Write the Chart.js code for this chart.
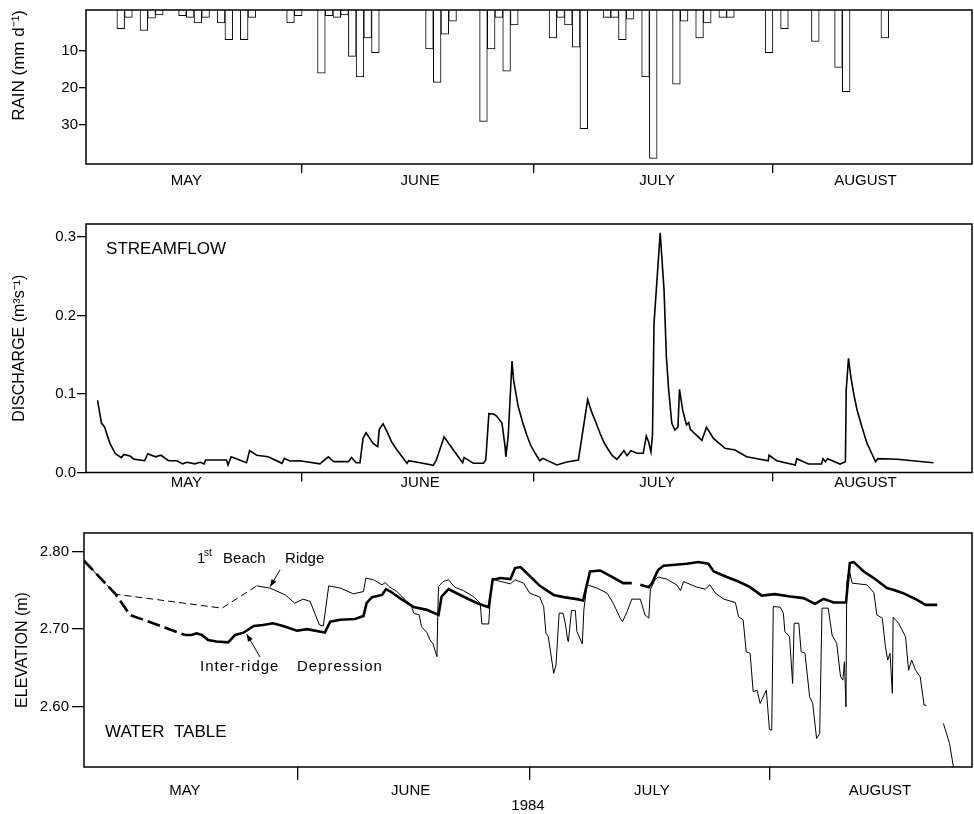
<!DOCTYPE html>
<html>
<head>
<meta charset="utf-8">
<script src="https://cdn.jsdelivr.net/npm/chart.js@4.4.1/dist/chart.umd.min.js"></script>
<style>
  body { margin: 0; background: #fff; width: 974px; height: 814px; overflow: hidden; position: relative; }
  canvas { position: absolute; left: 0; }
</style>
</head>
<body>
<canvas id="rain" width="974" height="196" style="top:0"></canvas>
<canvas id="flow" width="974" height="294" style="top:196px"></canvas>
<canvas id="wt" width="974" height="324" style="top:490px"></canvas>
<script>
// x values are days counted from 1 May 1984 (1 May = 0)
const monthNames = ['MAY', 'JUNE', 'JULY', 'AUGUST'];
const monthEdges = [31, 61, 92];
const monthLabelDays = [16, 46.3, 77, 104];
const monthLabelDaysWT = [16.4, 45.6, 76.8, 106.3];

// daily rain
const rainDay = [7, 8, 10, 11, 12, 15, 16, 17, 18, 20, 21, 23, 24, 29, 30, 33, 34, 35, 36, 37, 38, 39, 40,
  47, 48, 49, 50, 54, 55, 56, 57, 58, 63, 64, 65, 66, 67, 70, 71, 72, 73, 75, 76, 79, 80, 82, 83, 85, 86,
  91, 93, 97, 100, 101, 106];
const rainMm = [4, 1, 4.5, 1.2, 0.3, 0.5, 1, 2.5, 1, 2.5, 7, 7, 1, 2.5, 0.5, 16, 0.5, 1, 0.3, 11.5, 17, 6.5, 10.5,
  9.5, 18.5, 5.5, 2, 29, 9.5, 1, 15.5, 3, 6.5, 1, 3, 9, 31, 1, 1, 7, 1.5, 17, 39, 19, 2, 6.5, 2.5, 1, 1,
  10.5, 4, 7.5, 14.5, 21, 6.5];
const rainTicks = [10, 20, 30];

// streamflow
const flowDay = [4.5, 5.0, 5.4, 6.1, 6.8, 7.6, 7.9, 8.7, 9.2, 10.6, 11.0, 12.0, 12.7, 13.7, 14.8, 15.5, 16.1, 17.1,
  17.8, 18.3, 18.5, 21.2, 21.4, 21.8, 23.8, 24.2, 25.1, 26.6, 28.4, 28.7, 29.4, 30.7, 33.3, 34.4, 35.1, 37.0,
  37.4, 38.0, 38.5, 38.9, 39.3, 40.2, 40.8, 41.0, 41.5, 42.0, 42.6, 43.3, 44.6, 44.8, 46.3, 48.0, 48.4, 49.4,
  50.0, 50.6, 51.8, 52.0, 53.2, 54.5, 54.8, 55.2, 55.8, 56.2, 56.9, 57.3, 57.4, 57.7, 58.2, 58.4, 59.0, 59.6,
  60.1, 60.6, 61.2, 61.8, 62.2, 64.0, 65.3, 66.8, 68.0, 68.5, 69.1, 69.6, 70.1, 70.7, 71.2, 71.8, 72.7, 73.1,
  73.6, 74.4, 75.2, 75.6, 75.9, 76.2, 76.4, 76.6, 77.4, 77.9, 78.2, 78.5, 78.9, 79.3, 79.7, 79.9, 80.3, 80.8,
  81.1, 81.3, 82.8, 83.4, 84.3, 85.8, 87.1, 88.6, 91.4, 91.5, 92.5, 94.9, 95.1, 96.6, 98.3, 98.5, 98.8, 99.1,
  100.7, 101.4, 101.5, 101.8, 102.1, 102.5, 102.9, 103.6, 104.2, 104.8, 105.3, 105.6, 108.1, 112.8];
const flowQ = [0.092, 0.063, 0.058, 0.037, 0.024, 0.019, 0.023, 0.021, 0.017, 0.015, 0.024, 0.020, 0.022, 0.015,
  0.015, 0.011, 0.013, 0.011, 0.013, 0.011, 0.016, 0.016, 0.0095, 0.020, 0.0125, 0.028, 0.022, 0.020, 0.0117,
  0.018, 0.0146, 0.015, 0.011, 0.020, 0.0138, 0.0138, 0.019, 0.0125, 0.0125, 0.0435, 0.0507, 0.037, 0.033,
  0.055, 0.062, 0.052, 0.039, 0.0287, 0.0117, 0.015, 0.0125, 0.0092, 0.016, 0.0456, 0.037, 0.0287, 0.0125,
  0.019, 0.0117, 0.0117, 0.016, 0.075, 0.0745, 0.072, 0.063, 0.033, 0.020, 0.0456, 0.142, 0.118, 0.084, 0.063,
  0.048, 0.035, 0.0245, 0.015, 0.018, 0.0096, 0.0134, 0.016, 0.093, 0.0775, 0.063, 0.050, 0.0385, 0.0287,
  0.0214, 0.0168, 0.0278, 0.0214, 0.0278, 0.0245, 0.0245, 0.0465, 0.039, 0.0265, 0.048, 0.190, 0.3055, 0.232,
  0.1475, 0.105, 0.063, 0.054, 0.058, 0.106, 0.080, 0.0605, 0.0635, 0.055, 0.041, 0.0576, 0.0435, 0.0308,
  0.0287, 0.020, 0.015, 0.022, 0.015, 0.0096, 0.0176, 0.0108, 0.0108, 0.0176, 0.0138, 0.0176, 0.0108, 0.0138,
  0.105, 0.1455, 0.122, 0.099, 0.080, 0.056, 0.037, 0.0245, 0.0138, 0.0176, 0.0168, 0.0125];
const flowTicks = [0, 0.1, 0.2, 0.3];

// water table, 1st beach ridge (thin line)
const ridgeDay = [3.35, 7.4, 21.2, 25.7, 27.4, 29.4, 30.6, 31.7, 32.6, 33.2, 33.8, 34.3, 35.0, 36.5, 38.2, 39.5,
  39.8, 40.8, 41.9, 42.3, 42.8, 43.8, 45.7, 46.0, 46.7, 47.0, 47.7, 48.1, 48.5, 49.0, 49.1, 49.2, 49.8, 50.5,
  51.3, 52.4, 53.7, 54.6, 54.8, 55.7, 55.9, 56.2, 56.7, 58.5, 59.1, 60.2, 61.0, 62.3, 62.8, 63.1, 63.4, 64.1,
  64.4, 64.8, 65.3, 65.6, 65.9, 66.0, 66.4, 66.9, 67.1, 67.8, 68.0, 68.4, 69.7, 71.0, 71.8, 72.7, 73.0, 73.6,
  74.2, 75.3, 75.9, 76.4, 76.6, 77.2, 77.6, 78.7, 80.0, 80.5, 80.9, 82.6, 83.7, 84.3, 85.0, 86.1, 87.6, 88.0,
  88.6, 89.0, 89.5, 89.9, 90.4, 90.8, 91.6, 92.0, 92.3, 92.5, 93.4, 93.8, 94.0, 94.6, 95.0, 95.2, 95.8, 96.1,
  96.6, 97.2, 97.6, 98.1, 98.5, 98.8, 99.6, 100.1, 100.7, 101.2, 101.5, 101.7, 101.9, 102.0, 102.3, 102.7,
  104.6, 105.5, 105.9, 106.6, 107.0, 107.3, 107.6, 107.9, 108.0, 108.7, 109.6, 110.0, 110.4, 110.9, 111.5,
  112.0, 112.3, 113.4, 114.5, 115.3, 115.8, 116.1];
const ridgeElev = [2.788, 2.745, 2.727, 2.7557, 2.7528, 2.744, 2.7334, 2.7386, 2.7355, 2.7205, 2.7054, 2.704,
  2.7557, 2.7528, 2.7454, 2.7484, 2.7657, 2.7635, 2.757, 2.76, 2.7548, 2.7484, 2.73, 2.7205, 2.7183, 2.7032,
  2.6955, 2.686, 2.6809, 2.6645, 2.7161, 2.7548, 2.7613, 2.7635, 2.754, 2.7497, 2.742, 2.7334, 2.7067, 2.7067,
  2.742, 2.7657, 2.7626, 2.7583, 2.7635, 2.7592, 2.7463, 2.7412, 2.729, 2.6947, 2.6903, 2.6431, 2.6538, 2.7205,
  2.7205, 2.7076, 2.686, 2.684, 2.7239, 2.7239, 2.6968, 2.6809, 2.7248, 2.757, 2.7528, 2.7463, 2.7334, 2.7141,
  2.7097, 2.7226, 2.7386, 2.7386, 2.7183, 2.7141, 2.7506, 2.7635, 2.767, 2.7644, 2.757, 2.7497, 2.7613, 2.754,
  2.7515, 2.757, 2.7463, 2.7386, 2.7342, 2.7161, 2.7119, 2.671, 2.6689, 2.6194, 2.6215, 2.6044, 2.6215, 2.5708,
  2.57, 2.729, 2.7283, 2.7205, 2.6968, 2.6903, 2.6301, 2.7076, 2.7076, 2.671, 2.6689, 2.6129, 2.6044, 2.5592,
  2.5657, 2.727, 2.727, 2.6925, 2.6818, 2.6387, 2.6344, 2.658, 2.60, 2.7592, 2.7764, 2.7592, 2.757, 2.7471,
  2.7183, 2.7141, 2.6774, 2.6602, 2.6689, 2.6173, 2.7153, 2.7076, 2.6903, 2.647, 2.6602, 2.647, 2.6387,
  2.6021, 2.6021, null, 2.5786, 2.5527, 2.5226, 2.49];

// water table, inter-ridge depression (thick line)
const deprDay = [3.35, 7.4, 9.3, 16.4, 17.3, 17.9, 18.6, 19.4, 20.5, 22.0, 22.9, 24.0, 25.3, 26.5, 27.8, 29.1,
  30.9, 32.2, 34.5, 35.2, 36.5, 38.4, 39.5, 39.9, 40.6, 41.9, 42.4, 43.0, 44.2, 46.0, 47.7, 49.2, 49.6, 50.5,
  51.1, 52.4, 54.2, 55.7, 56.2, 57.2, 58.5, 59.1, 59.8, 60.4, 62.3, 64.1, 65.4, 67.1, 67.9, 68.8, 70.1, 71.4,
  73.1, 74.2, 74.7, 75.3, 76.4, 76.8, 77.6, 78.3, 79.8, 81.3, 82.8, 84.1, 84.8, 86.5, 88.0, 89.5, 91.0, 92.7,
  94.7, 96.4, 97.9, 99.0, 100.3, 101.9, 102.4, 102.9, 104.2, 105.5, 107.2, 108.0, 109.3, 111.1, 112.2, 113.7];
const deprElev = [2.788, 2.7454, 2.7183, 2.6925, 2.6925, 2.6947, 2.6925, 2.686, 2.684, 2.683, 2.6925, 2.6955,
  2.704, 2.7054, 2.7076, 2.704, 2.698, 2.700, 2.6955, 2.7097, 2.712, 2.7131, 2.717, 2.7334, 2.7412, 2.744,
  2.7515, 2.7484, 2.7399, 2.7283, 2.7248, 2.7183, 2.742, 2.7515, 2.7484, 2.742, 2.7334, 2.7283, 2.7635, 2.7657,
  2.7644, 2.7786, 2.7799, 2.7742, 2.7557, 2.744, 2.7412, 2.7386, 2.7368, 2.7742, 2.7755, 2.7686, 2.7592,
  2.7592, null, 2.757, 2.754, 2.759, 2.776, 2.7815, 2.7828, 2.7841, 2.7863, 2.7841, 2.7742, 2.767, 2.7613,
  2.754, 2.7432, 2.745, 2.742, 2.7399, 2.7325, 2.739, 2.7342, 2.7342, 2.785, 2.7863, 2.7742, 2.7657, 2.7528,
  2.7506, 2.7463, 2.7377, 2.7312, 2.7312];
const wtTicks = [2.6, 2.7, 2.8];
const ridgeDashedTo = 25.7;
const deprDashedTo = 16.4;

const FONT = '"Liberation Sans", Arial, Helvetica, sans-serif';
Chart.defaults.font.family = FONT;
Chart.defaults.color = '#000';
Chart.defaults.animation = false;

const pts = (xs, ys) => xs.map((x, i) => ({ x: x, y: ys[i] }));

// frame round the plot area
const frame = {
  id: 'frame',
  afterDatasetsDraw(chart) {
    const { ctx, chartArea: a } = chart;
    ctx.save();
    ctx.strokeStyle = '#000';
    ctx.lineWidth = 1.5;
    ctx.strokeRect(a.left, a.top, a.right - a.left, a.bottom - a.top);
    ctx.restore();
  }
};

// text labels and arrows placed in data units
const notes = {
  id: 'notes',
  afterDraw(chart, args, opts) {
    const { ctx } = chart;
    const x = chart.scales.x, y = chart.scales.y;
    ctx.save();
    ctx.fillStyle = '#000';
    ctx.strokeStyle = '#000';
    ctx.textBaseline = 'middle';
    ctx.textAlign = 'left';
    (opts.labels || []).forEach(l => {
      ctx.font = (l.size || 15) + 'px ' + FONT;
      ctx.letterSpacing = l.spacing || '0px';
      ctx.fillText(l.text, x.getPixelForValue(l.x), y.getPixelForValue(l.y));
    });
    ctx.letterSpacing = '0px';
    (opts.arrows || []).forEach(a => {
      const x0 = x.getPixelForValue(a.from[0]), y0 = y.getPixelForValue(a.from[1]);
      const x1 = x.getPixelForValue(a.to[0]), y1 = y.getPixelForValue(a.to[1]);
      ctx.lineWidth = 1;
      ctx.beginPath(); ctx.moveTo(x0, y0); ctx.lineTo(x1, y1); ctx.stroke();
      const ang = Math.atan2(y1 - y0, x1 - x0), L = 8, W = 0.35;
      ctx.beginPath();
      ctx.moveTo(x1, y1);
      ctx.lineTo(x1 - L * Math.cos(ang - W), y1 - L * Math.sin(ang - W));
      ctx.lineTo(x1 - L * Math.cos(ang + W), y1 - L * Math.sin(ang + W));
      ctx.closePath(); ctx.fill();
    });
    ctx.restore();
  }
};

function monthAxis(min, max, labelDays, axisHeight, tickLen, pad, extra) {
  const names = new Map(labelDays.map((d, i) => [d, monthNames[i]]));
  return Object.assign({
    type: 'linear', min: min, max: max, offset: false,
    afterBuildTicks: s => {
      s.ticks = monthEdges.concat(labelDays).sort((a, b) => a - b).map(v => ({ value: v }));
    },
    afterFit: s => { s.height = axisHeight; },
    ticks: { autoSkip: false, maxRotation: 0, minRotation: 0, padding: pad, font: { size: 15 },
      callback: v => names.get(v) || '' },
    grid: { offset: false, drawOnChartArea: false, tickLength: tickLen, lineWidth: 1.3,
      color: c => (c.tick && monthEdges.includes(c.tick.value)) ? '#000' : 'rgba(0,0,0,0)' },
    border: { display: false }
  }, extra || {});
}

function valueAxis(min, max, ticks, width, tickLen, pad, fmt, title) {
  return {
    type: 'linear', min: min, max: max,
    afterBuildTicks: s => { s.ticks = ticks.map(v => ({ value: v })); },
    afterFit: s => { s.width = width; },
    ticks: { font: { size: 15 }, padding: pad, callback: fmt },
    grid: { drawOnChartArea: false, tickLength: tickLen, lineWidth: 1.3, color: '#000' },
    border: { display: false },
    title: title
  };
}

const basePlugins = { legend: { display: false }, tooltip: { enabled: false } };

// RAIN (bars hang down from the top edge of the frame)
const rainTop = 1;
new Chart(document.getElementById('rain'), {
  type: 'bar',
  data: {
    datasets: [{
      data: rainDay.map((d, i) => ({ x: d + 0.5, y: -rainMm[i] })),
      base: rainTop,
      backgroundColor: '#fff',
      borderColor: '#000',
      borderWidth: 1,
      barThickness: 7.7,
      grouped: false
    }]
  },
  options: {
    responsive: false,
    layout: { padding: { top: 6, right: 2, left: 0, bottom: 0 } },
    scales: {
      x: monthAxis(3.0, 117.8, monthLabelDays, 32, 9, -1),
      y: valueAxis(-40.5, rainTop, rainTicks.map(v => -v), 86, 7, 1, v => Math.abs(v),
        { display: true, text: 'RAIN (mm d\u207B\u00B9)', align: 'end', font: { size: 17 }, padding: { top: 9 } })
    },
    plugins: basePlugins
  },
  plugins: [frame]
});

// STREAMFLOW
new Chart(document.getElementById('flow'), {
  type: 'line',
  data: {
    datasets: [{
      data: pts(flowDay, flowQ),
      borderColor: '#000',
      borderWidth: 1.6,
      pointRadius: 0,
      tension: 0
    }]
  },
  options: {
    responsive: false,
    layout: { padding: { top: 28, right: 2, left: 0, bottom: 0 } },
    scales: {
      x: monthAxis(3.0, 117.8, monthLabelDays, 17.5, 9, -7.5),
      y: valueAxis(0, 0.3166, flowTicks, 86, 9, 1, v => v.toFixed(1),
        { display: true, text: 'DISCHARGE (m\u00B3s\u207B\u00B9)', font: { size: 16 }, padding: { top: 10 } })
    },
    plugins: Object.assign({
      notes: { labels: [{ text: 'STREAMFLOW', x: 5.6, y: 0.2843, size: 17 }] }
    }, basePlugins)
  },
  plugins: [frame, notes]
});

// WATER TABLE
new Chart(document.getElementById('wt'), {
  type: 'line',
  data: {
    datasets: [{
      label: '1st Beach Ridge',
      data: pts(ridgeDay, ridgeElev),
      borderColor: '#000',
      borderWidth: 1,
      pointRadius: 0,
      tension: 0,
      spanGaps: false,
      segment: { borderDash: c => c.p1.parsed.x <= ridgeDashedTo ? [7, 4] : undefined }
    }, {
      label: 'Inter-ridge Depression',
      data: pts(deprDay, deprElev),
      borderColor: '#000',
      borderWidth: 2.6,
      pointRadius: 0,
      tension: 0,
      spanGaps: false,
      segment: { borderDash: c => c.p1.parsed.x <= deprDashedTo ? [13, 5] : undefined }
    }]
  },
  options: {
    responsive: false,
    layout: { padding: { top: 43, right: 2, left: 0, bottom: 0 } },
    scales: {
      x: monthAxis(3.35, 118.2, monthLabelDaysWT, 47, 13, 2,
        { title: { display: true, text: '1984', font: { size: 15 }, padding: { top: 0, bottom: -1 } } }),
      y: valueAxis(2.5226, 2.8237, wtTicks, 84, 12, 3, v => v.toFixed(2),
        { display: true, text: 'ELEVATION (m)', font: { size: 16 }, padding: { top: 13 } })
    },
    plugins: Object.assign({
      notes: {
        labels: [
          { text: 'WATER  TABLE', x: 6.07, y: 2.5677, size: 17 },
          { text: '1', x: 17.97, y: 2.7902, size: 15 },
          { text: 'st', x: 18.88, y: 2.797, size: 10 },
          { text: 'Beach', x: 21.34, y: 2.7902, size: 15 },
          { text: 'Ridge', x: 29.36, y: 2.7902, size: 15 },
          { text: 'Inter-ridge', x: 18.36, y: 2.6516, size: 15, spacing: '1px' },
          { text: 'Depression', x: 30.9, y: 2.6516, size: 15, spacing: '1px' }
        ],
        arrows: [
          { from: [28.71, 2.7764], to: [27.42, 2.7545] },
          { from: [26.12, 2.6641], to: [24.38, 2.6938] }
        ]
      }
    }, basePlugins)
  },
  plugins: [frame, notes]
});
</script>
</body>
</html>
